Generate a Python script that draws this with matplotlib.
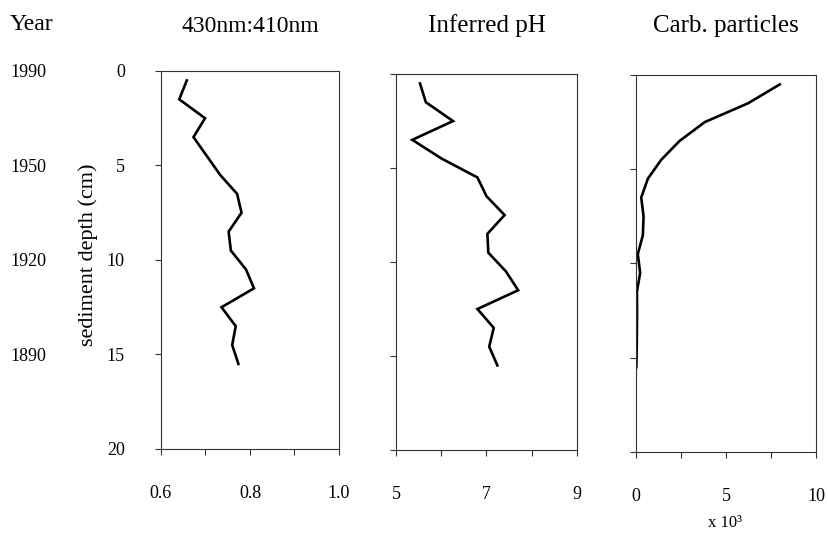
import matplotlib
matplotlib.use("Agg")
import matplotlib.pyplot as plt
from matplotlib.transforms import blended_transform_factory

# Core data (depth in cm)
depth = [0.5, 1.5, 2.5, 3.5, 4.5, 5.5, 6.5, 7.5, 8.5, 9.5, 10.5, 11.5, 12.5, 13.5, 14.5, 15.5]
ratio = [0.658, 0.641, 0.699, 0.673, 0.703, 0.733, 0.771, 0.781, 0.752, 0.757, 0.791, 0.809, 0.736, 0.768, 0.760, 0.774]
ph = [5.53, 5.66, 6.26, 5.36, 6.01, 6.80, 7.00, 7.40, 7.02, 7.04, 7.43, 7.70, 6.80, 7.16, 7.06, 7.24]
carb = [7.99, 6.23, 3.82, 2.42, 1.40, 0.66, 0.29, 0.42, 0.38, 0.10, 0.23, 0.05, 0.06, 0.05, 0.04, 0.02]  # x 10^3

years = ["1990", "1950", "1920", "1890"]
year_depths = [0, 5, 10, 15]
depth_ticks = [0, 5, 10, 15, 20]

plt.rcParams["font.family"] = ["Liberation Serif", "DejaVu Serif"]

fig = plt.figure(figsize=(8.29, 5.34), dpi=100)

# axes rectangles in figure fractions
ax1 = fig.add_axes([0.1942, 0.1592, 0.2147, 0.7079])
ax2 = fig.add_axes([0.4777, 0.1573, 0.2183, 0.7040])
ax3 = fig.add_axes([0.7672, 0.1536, 0.2171, 0.7060])

panels = [
    (ax1, ratio, (0.6, 1.0), [0.6, 0.7, 0.8, 0.9, 1.0], ["0.6", "", "0.8", "", "1.0"], "430nm:410nm", 17),
    (ax2, ph, (5, 9), [5, 6, 7, 8, 9], ["5", "", "7", "", "9"], "Inferred pH", 18),
    (ax3, carb, (0, 10), [0, 2.5, 5, 7.5, 10], ["0", "", "5", "", "10"], "Carb. particles", 18),
]

for ax, vals, xlim, xt, xtl, title, tsize in panels:
    ax.plot(vals, depth, color="black", lw=1.9, solid_joinstyle="miter")
    ax.set_xlim(*xlim)
    ax.set_ylim(20, 0)
    ax.set_xticks(xt)
    ax.set_xticklabels(xtl)
    ax.set_yticks(depth_ticks)
    for s in ax.spines.values():
        s.set_linewidth(0.8)
        s.set_color("#333333")
    ax.tick_params(axis="x", direction="out", length=4, width=0.8, pad=22, labelsize=13, colors="#333333", labelcolor="black")
    ax.tick_params(axis="y", direction="out", length=4, width=0.8, pad=22, labelsize=13, colors="#333333", labelcolor="black")
    if ax is not ax1:
        ax.set_yticklabels([])
    else:
        for lab in ax.get_yticklabels():
            lab.set_va("center_baseline")
    # column heading
    pos = ax.get_position()
    fig.text((pos.x0 + pos.x1) / 2, 1 - 26 / 534, title, ha="center", va="center", fontsize=tsize)

# year scale on the far left, aligned with depth
yr_trans = blended_transform_factory(fig.transFigure, ax1.transData)
for yr, d in zip(years, year_depths):
    ax1.text(10 / 829, d, yr, transform=yr_trans, ha="left", va="center_baseline", fontsize=13)

fig.text(10 / 829, 1 - 25 / 534, "Year", ha="left", va="center", fontsize=17)
fig.text(88 / 829, 1 - 255 / 534, "sediment depth (cm)", rotation=90, ha="center", va="center", fontsize=16)
fig.text(725 / 829, 1 - 523 / 534, "x 10³", ha="center", va="center", fontsize=12)

fig.savefig("out.png", dpi=100)
